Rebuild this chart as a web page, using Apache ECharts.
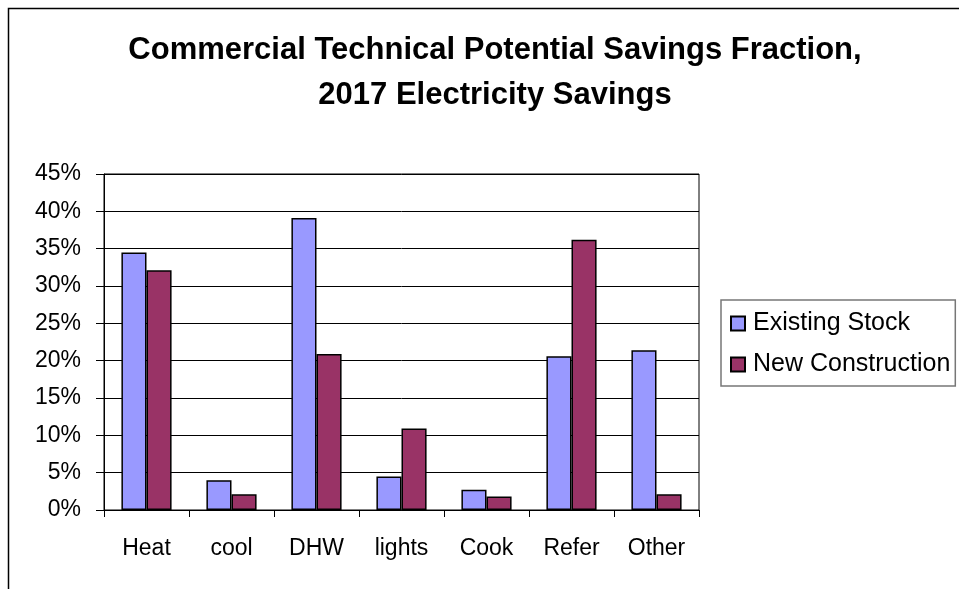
<!DOCTYPE html>
<html>
<head>
<meta charset="utf-8">
<script src="https://cdn.jsdelivr.net/npm/echarts@6/dist/echarts.min.js"></script>
<style>
  html, body { margin: 0; padding: 0; background: #fff; }
  #chart { width: 959px; height: 589px; }
</style>
</head>
<body>
<div id="chart"></div>
<script>
// End uses and savings fractions (percent)
const categories = ['Heat', 'cool', 'DHW', 'lights', 'Cook', 'Refer', 'Other'];
const existingStock = [34.5, 4.0, 39.1, 4.5, 2.7, 20.6, 21.4];
const newConstruction = [32.1, 2.1, 20.9, 10.9, 1.8, 36.2, 2.1];
const seriesNames = ['Existing Stock', 'New Construction'];
const titleLines = ['Commercial Technical Potential Savings Fraction,', '2017 Electricity Savings'];

const FONT = '"Liberation Sans", Arial, sans-serif';
const chart = echarts.init(document.getElementById('chart'), null, { renderer: 'canvas' });

chart.setOption({
  backgroundColor: '#fff',
  animation: false,
  textStyle: { fontFamily: FONT },
  title: {
    text: titleLines.join('\n'),
    left: 490,
    textAlign: 'center',
    top: 23,
    textStyle: { fontFamily: FONT, fontSize: 31, fontWeight: 'bold', color: '#000', lineHeight: 45 }
  },
  graphic: [{
    type: 'rect',
    shape: { x: 8.5, y: 8.5, width: 1200, height: 1200 },
    style: { fill: 'none', stroke: '#000', lineWidth: 1.5 },
    silent: true,
    z: 100
  }],
  legend: {
    orient: 'vertical',
    left: 721,
    top: 300,
    padding: [11, 5, 9, 9],
    itemGap: 16,
    itemWidth: 14,
    itemHeight: 14,
    borderColor: '#777',
    borderWidth: 1.5,
    icon: 'rect',
    data: seriesNames,
    textStyle: { fontFamily: FONT, fontSize: 25, color: '#000', padding: [0, 0, 0, 3] }
  },
  grid: {
    left: 104, right: 260, top: 174, bottom: 79,
    show: true, borderColor: '#000', borderWidth: 1
  },
  xAxis: {
    type: 'category',
    data: categories,
    axisLine: { lineStyle: { color: '#000', width: 1 } },
    axisTick: { show: true, length: 7, lineStyle: { color: '#000' } },
    axisLabel: { fontFamily: FONT, fontSize: 23, color: '#000', margin: 27 }
  },
  yAxis: {
    type: 'value',
    min: 0, max: 45, interval: 5,
    axisLine: { show: true, lineStyle: { color: '#000', width: 1 } },
    axisTick: { show: true, length: 8, lineStyle: { color: '#000' } },
    axisLabel: { formatter: '{value}%', fontFamily: FONT, fontSize: 23, color: '#000', margin: 23 },
    splitLine: { show: true, lineStyle: { color: '#000', width: 1 } }
  },
  series: [
    {
      name: seriesNames[0], type: 'bar', data: existingStock,
      barGap: '0%', barCategoryGap: '41%',
      itemStyle: { color: '#9999FF', borderColor: '#000', borderWidth: 1.5 }
    },
    {
      name: seriesNames[1], type: 'bar', data: newConstruction,
      itemStyle: { color: '#993366', borderColor: '#000', borderWidth: 1.5 }
    }
  ]
});
</script>
</body>
</html>
